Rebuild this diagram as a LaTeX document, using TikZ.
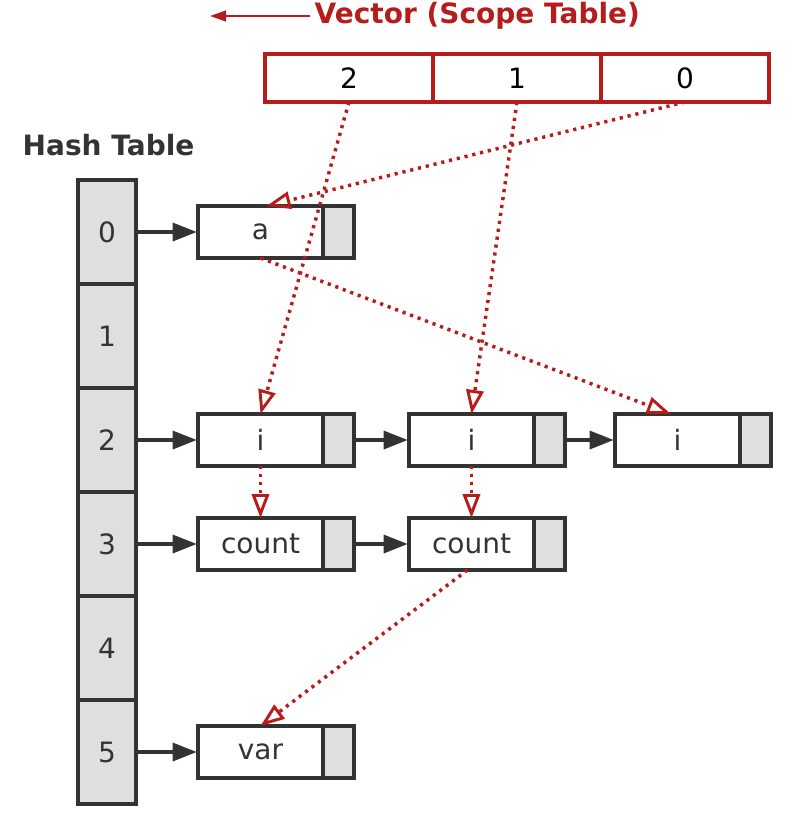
\documentclass[tikz,border=0pt]{standalone}
\usepackage{fontspec}
\setmainfont{DejaVu Sans}
\usetikzlibrary{arrows.meta}
\definecolor{linegray}{HTML}{333333}
\definecolor{cellgray}{HTML}{DFDFDF}
\definecolor{scopered}{HTML}{B71C1C}
\tikzset{
  hashcell/.style={draw=linegray, fill=cellgray, line width=2.5pt, outer sep=0pt,
    minimum width=43.5pt, minimum height=78pt, inner sep=0pt},
  entry/.style={draw=linegray, fill=white, line width=2.5pt, outer sep=0pt,
    minimum width=93.75pt, minimum height=39pt, inner sep=0pt},
  entrytail/.style={draw=linegray, fill=cellgray, line width=2.5pt, outer sep=0pt,
    minimum width=23.25pt, minimum height=39pt, inner sep=0pt, anchor=west},
  vecslot/.style={draw=scopered, fill=white, line width=2.5pt, text=black, outer sep=0pt,
    minimum width=126pt, minimum height=36pt, inner sep=0pt},
  link/.style={draw=linegray, line width=2.5pt, shorten >=1pt,
    -{Triangle[length=18pt,width=13.5pt]}},
  scopelink/.style={draw=scopered, line width=2.6pt, dash pattern=on 2.4pt off 3.6pt,
    -{Triangle[open,length=18pt,width=13pt,line width=2.2pt]}}
}
\begin{document}
\begin{tikzpicture}[x=0.75pt,y=-0.75pt,
  every node/.style={font=\fontsize{21}{25}\selectfont, text=linegray}]
    \useasboundingbox (0,0) rectangle (794,815);
    % Titulos
    \node[anchor=west, text=scopered, font=\fontsize{21}{25}\selectfont\bfseries] (title) at (310,16) {Vector (Scope Table)};
    \coordinate (titletip) at (210,16);
    \draw[scopered, line width=1.6pt, -{Triangle[length=12pt,width=8pt]}] (title.west) -- (titletip);
    \node[anchor=west, font=\fontsize{21}{25}\selectfont\bfseries] (hashtitle) at (18,145) {Hash Table};
    % Tabla hash
    \foreach \k in {0,...,5}
        \node[hashcell] (h\k) at (107,232+104*\k) {\k};
    % Vector de ambitos
    \node[vecslot] (v2) at (349,78) {2};
    \node[vecslot] (v1) at (517,78) {1};
    \node[vecslot] (v0) at (685,78) {0};
    % Entradas
    \node[entry] (a) at (260.5,232) {a};
    \node[entrytail] (at) at (a.east) {};
    \node[entry] (i1) at (260.5,440) {i};
    \node[entrytail] (i1t) at (i1.east) {};
    \node[entry] (i2) at (471.5,440) {i};
    \node[entrytail] (i2t) at (i2.east) {};
    \node[entry] (i3) at (677.5,440) {i};
    \node[entrytail] (i3t) at (i3.east) {};
    \node[entry] (c1) at (260.5,544) {count};
    \node[entrytail] (c1t) at (c1.east) {};
    \node[entry] (c2) at (471.5,544) {count};
    \node[entrytail] (c2t) at (c2.east) {};
    \node[entry] (var) at (260.5,752) {var};
    \node[entrytail] (vart) at (var.east) {};
    % Enlaces de las listas
    \draw[link] (h0.east) -- (a.west);
    \draw[link] (h2.east) -- (i1.west);
    \draw[link] (h3.east) -- (c1.west);
    \draw[link] (h5.east) -- (var.west);
    \draw[link] (i1t.east) -- (i2.west);
    \draw[link] (i2t.east) -- (i3.west);
    \draw[link] (c1t.east) -- (c2.west);
    % Enlaces de ambito
    \draw[scopelink] (v2.south) -- (i1.north);
    \draw[scopelink] (v1.south) -- (i2.north);
    \draw[scopelink] (v0.south) -- ([xshift=4.5pt]a.north);
    \draw[scopelink] (a.south) -- ([xshift=-5pt]i3.north);
    \draw[scopelink] (i1.south) -- (c1.north);
    \draw[scopelink] (i2.south) -- (c2.north);
    \draw[scopelink] ([xshift=-3pt]c2.south) -- (var.north);
\end{tikzpicture}
\end{document}
